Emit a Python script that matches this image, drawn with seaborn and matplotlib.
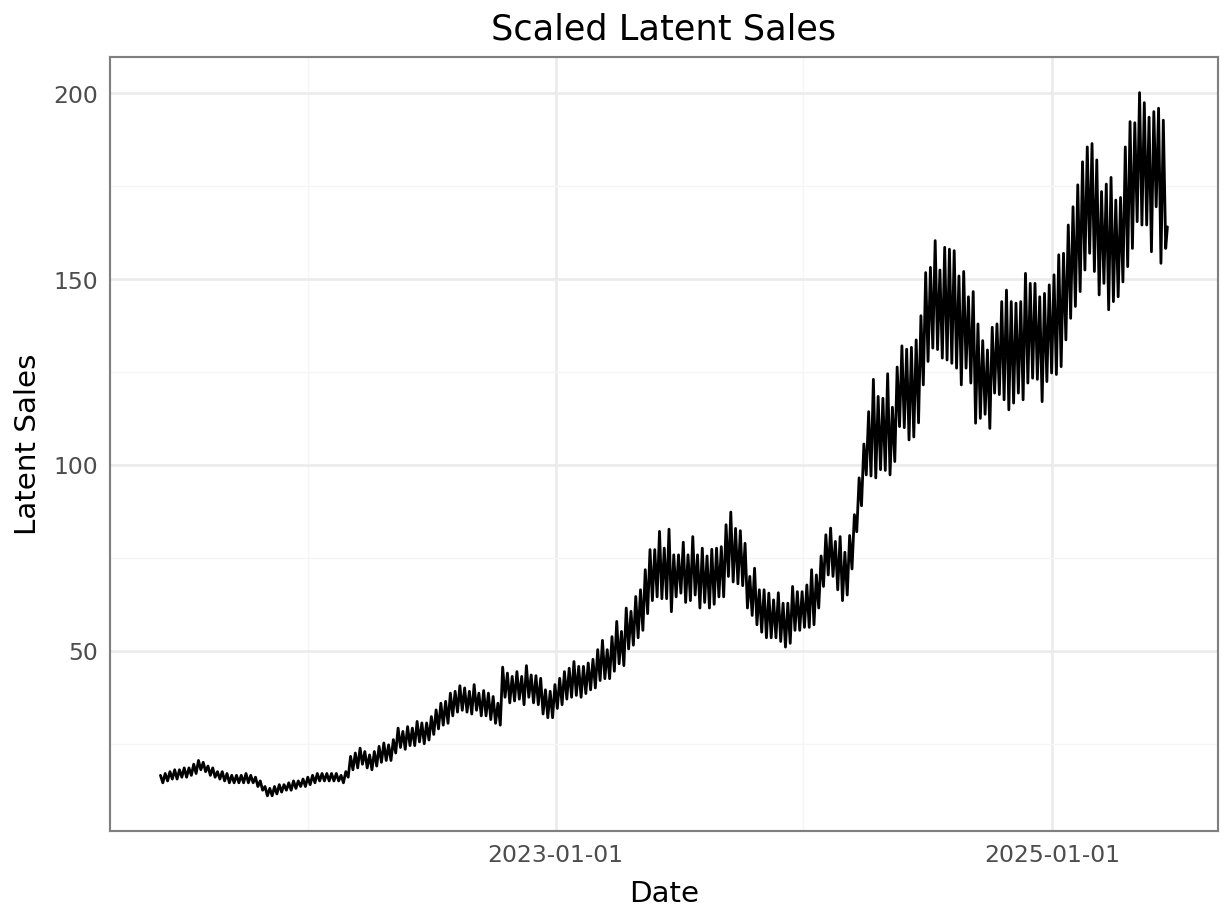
import numpy as np
import pandas as pd
import matplotlib
matplotlib.use("Agg")
import matplotlib.pyplot as plt
import matplotlib.dates as mdates
from matplotlib.ticker import MultipleLocator, FixedLocator
import seaborn as sns

# ---- data ----
first_week = "2021-05-29"
last_date = "2025-06-20"
last_value = 164.0

x_major_ticks = ["2023-01-01", "2025-01-01"]
x_minor_ticks = ["2022-01-01", "2024-01-01"]

# weekly peak values
peak_values = [
    16.5, 17.0, 17.5, 18.0, 18.0, 18.5, 18.5, 19.5, 20.5, 20.0,
    19.0, 18.5, 17.5, 17.5, 17.0, 16.5, 16.5, 16.5, 17.0, 16.5,
    16.0, 15.0, 13.5, 13.0, 13.5, 14.0, 14.0, 14.5, 15.0, 15.0,
    15.5, 16.0, 16.5, 17.0, 17.0, 17.0, 17.0, 17.0, 16.5, 17.5,
    21.6, 22.5, 23.8, 22.9, 22.0, 22.9, 24.3, 25.2, 24.7, 26.1,
    29.2, 28.3, 29.6, 29.2, 31.0, 30.6, 30.6, 32.3, 34.1, 35.9,
    36.4, 38.6, 39.1, 40.6, 40.0, 39.1, 40.9, 38.6, 39.3, 38.6,
    37.7, 35.9, 45.6, 44.0,
    43.1, 44.4, 43.1, 46.0, 43.5, 43.3, 42.6, 39.5, 39.1, 40.9,
    42.6, 44.4, 45.3, 47.1, 45.8, 45.8, 46.7, 47.7, 50.3, 52.8,
    50.3, 53.8, 57.9, 55.2, 61.5, 60.6, 64.6, 66.4, 71.8,
    77.2, 77.2, 82.1, 77.6, 82.7, 75.8, 75.8, 79.2, 75.8, 80.7,
    75.8, 77.6, 75.5, 77.3, 77.6, 78.0, 83.9, 87.3, 82.9, 82.3,
    78.9, 70.0, 72.2, 66.4, 66.4, 65.5, 63.7, 65.6, 62.8, 62.8,
    67.3, 65.9,
    65.9, 67.7, 71.8, 70.4, 75.5, 81.2, 83.0, 79.4, 80.7, 76.5, 81.0,
    86.6, 96.5, 105.6, 114.3, 123.0, 118.4, 117.9, 124.5, 115.5, 126.3,
    132.0, 131.1, 131.6, 133.6, 140.1, 151.7, 153.1, 160.3, 152.4, 158.5,
    158.0, 157.6, 150.8, 152.0, 145.2, 146.6, 137.9, 133.4, 130.9, 137.0,
    137.9, 143.9, 147.0, 143.9, 143.5,
    143.9, 151.5, 148.8, 148.8, 145.2, 146.1, 148.4, 151.1, 156.5, 156.9,
    164.5, 169.4, 175.3, 181.5, 185.5, 186.4, 182.0, 173.5, 175.5, 177.3,
    171.2, 171.9, 185.5, 192.3, 192.0, 200.1, 197.4, 193.5, 195.0, 195.9,
    192.7,
]

# weekly trough values (mid-week)
trough_values = [
    14.5, 15.0, 15.5, 15.5, 16.0, 16.0, 16.5, 17.0, 18.0, 17.5,
    16.5, 16.0, 15.5, 15.0, 14.5, 14.5, 14.5, 14.5, 14.5, 14.5,
    13.5, 12.5, 11.0, 11.0, 11.5, 12.0, 12.5, 12.5, 13.0, 13.5,
    13.5, 14.0, 14.5, 15.0, 15.0, 15.0, 15.0, 15.0, 14.5, 16.0,
    18.0, 18.5, 19.5, 18.5, 18.0, 19.0, 20.0, 20.5, 20.5, 22.5,
    24.0, 23.5, 24.5, 24.5, 25.5, 25.0, 26.0, 27.5, 29.0, 30.0,
    30.5, 32.5, 33.5, 34.0, 33.5, 33.0, 34.0, 32.5, 32.5, 31.5,
    30.5, 30.0, 37.5, 36.0,
    36.5, 37.0, 35.5, 37.5, 36.0, 35.5, 33.0, 32.0, 32.0, 34.5,
    35.5, 37.0, 37.5, 38.0, 37.5, 38.5, 39.5, 40.0, 42.0, 42.5,
    42.5, 44.5, 46.5, 46.0, 50.5, 51.5, 53.5, 55.5, 60.0,
    63.5, 64.5, 64.0, 64.0, 60.5, 64.5, 65.5, 63.0, 63.5, 65.0,
    61.5, 63.0, 61.5, 62.5, 64.5, 64.5, 70.0, 68.5, 68.0, 67.5,
    61.5, 59.5, 57.0, 55.0, 53.5, 53.5, 53.5, 52.5, 51.0, 52.0,
    55.5, 55.5,
    56.3, 56.3, 57.0, 61.5, 67.3, 70.4, 70.0, 66.4, 63.5, 65.0, 72.0,
    82.0, 89.0, 97.3, 97.0, 96.5, 98.7, 98.5, 97.3, 100.9, 110.3,
    110.0, 106.7, 107.5, 111.3, 121.5, 127.8, 131.4, 131.0, 128.7, 128.2,
    127.3, 126.0, 121.5, 126.0, 122.0, 111.2, 112.5, 113.6, 109.8, 119.3,
    118.9, 117.5, 114.8, 116.6, 119.3,
    117.5, 122.0, 123.3, 123.0, 117.0, 122.4, 124.7, 124.3, 126.4, 133.6,
    139.4, 142.6, 146.6, 152.4, 156.9, 152.0, 145.7, 148.8, 141.7, 143.9,
    145.2, 149.2, 153.3, 158.2, 165.4, 164.5, 164.5, 157.3, 169.4, 154.2,
    158.2,
]

# ---- assemble the series ----
n = min(len(peak_values), len(trough_values))
peak_dates = pd.date_range(first_week, periods=n, freq="7D")
trough_dates = peak_dates + pd.Timedelta(hours=84)
dates = np.empty(2 * n, dtype="datetime64[ns]")
vals = np.empty(2 * n)
dates[0::2] = peak_dates.values
dates[1::2] = trough_dates.values
vals[0::2] = peak_values[:n]
vals[1::2] = trough_values[:n]
df = pd.DataFrame({"Date": dates, "Latent Sales": vals})
df = pd.concat([df, pd.DataFrame({"Date": [pd.Timestamp(last_date)],
                                  "Latent Sales": [last_value]})],
               ignore_index=True)

# ---- plot ----
sns.set_theme(style="white")
plt.rcParams["font.family"] = ["DejaVu Sans"]

fig = plt.figure(figsize=(6.4, 4.8), dpi=192)
ax = fig.add_axes([0.0896, 0.0977, 0.9014, 0.8393])

sns.lineplot(data=df, x="Date", y="Latent Sales", ax=ax, color="black",
             linewidth=1.05, estimator=None, sort=True)

# limits with 5% expansion like ggplot
xmin, xmax = df["Date"].min(), df["Date"].max()
xr = xmax - xmin
ax.set_xlim(xmin - 0.05 * xr, xmax + 0.05 * xr)
ymin, ymax = df["Latent Sales"].min(), df["Latent Sales"].max()
yr = ymax - ymin
ax.set_ylim(ymin - 0.05 * yr, ymax + 0.05 * yr)

ax.xaxis.set_major_locator(FixedLocator(mdates.date2num(pd.to_datetime(x_major_ticks))))
ax.xaxis.set_major_formatter(mdates.DateFormatter("%Y-%m-%d"))
ax.xaxis.set_minor_locator(FixedLocator(mdates.date2num(pd.to_datetime(x_minor_ticks))))
ax.yaxis.set_major_locator(MultipleLocator(50))
ax.yaxis.set_minor_locator(MultipleLocator(25))

ax.set_axisbelow(True)
ax.grid(which="major", color="#ebebeb", linewidth=1.0)
ax.grid(which="minor", color="#f5f5f5", linewidth=0.5)

for s in ax.spines.values():
    s.set_color("#7f7f7f")
    s.set_linewidth(0.8)

ax.tick_params(axis="both", which="major", length=2.2, width=0.6,
               color="#333333", labelcolor="#4d4d4d", labelsize=8.8, pad=2.5)
ax.tick_params(axis="both", which="minor", length=0)

ax.set_title("Scaled Latent Sales", fontsize=13.2, color="black", pad=7)
ax.set_xlabel("Date", fontsize=11, color="black", labelpad=5)
ax.set_ylabel("Latent Sales", fontsize=11, color="black", labelpad=4)

fig.savefig("out.png", dpi=192)
